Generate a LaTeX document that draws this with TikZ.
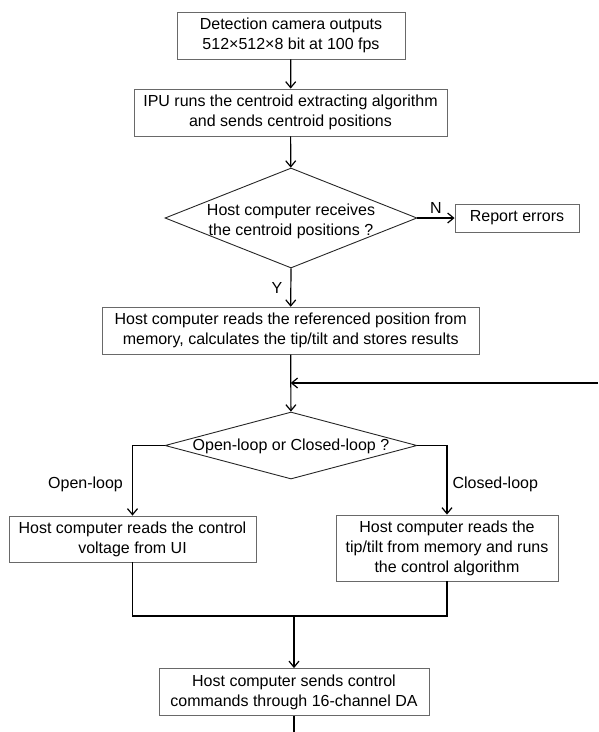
\documentclass[tikz,border=0pt]{standalone}
\usepackage{fontspec}
\setmainfont{Liberation Sans}
\usepackage{tikz}
\usetikzlibrary{arrows.meta, shapes.geometric}
\definecolor{boxgray}{RGB}{105,105,105}

\begin{document}
\begin{tikzpicture}[x=1pt, y=-1pt,
    txt/.style={font=\fontsize{16}{20}\selectfont, align=center, inner sep=0pt},
    stepbox/.style={draw=boxgray, line width=0.9pt, inner sep=0pt,
      font=\fontsize{16}{20}\selectfont, align=center},
    decision/.style={diamond, draw=black!85, line width=0.9pt, inner sep=0pt},
    flow/.style={line width=1.2pt, -{Straight Barb[length=6pt, width=10pt]}},
    link/.style={line width=1.2pt},
    lbl/.style={font=\fontsize{16}{20}\selectfont, inner sep=0pt}]
    \useasboundingbox (0,0) rectangle (598,732);
    % boxes and decisions
    \node[stepbox, minimum width=228, minimum height=47] (camera) at (291,35.5)
      {Detection camera outputs\\512×512×8 bit at 100 fps};
    \node[stepbox, minimum width=313, minimum height=47] (ipu) at (290.5,112.5)
      {IPU runs the centroid extracting algorithm\\and sends centroid positions};
    \node[decision, minimum width=252, minimum height=100] (recv) at (291,218) {};
    \node[txt] (recvtxt) at (291,221) {Host computer receives\\the centroid positions ?};
    \node[stepbox, minimum width=124, minimum height=28] (report) at (517,218) {Report errors};
    \node[stepbox, minimum width=377, minimum height=47] (calc) at (290.7,330.7)
      {Host computer reads the referenced position from\\memory, calculates the tip/tilt and stores results};
    \node[decision, minimum width=252, minimum height=67] (mode) at (291,445.5) {};
    \node[txt] (modetxt) at (291,446) {Open-loop or Closed-loop ?};
    \node[stepbox, minimum width=247, minimum height=46] (openbox) at (132.5,539)
      {Host computer reads the control\\voltage from UI};
    \node[stepbox, minimum width=222, minimum height=66] (closedbox) at (447,548)
      {Host computer reads the\\tip/tilt from memory and runs\\the control algorithm};
    \node[stepbox, minimum width=270, minimum height=47] (send) at (294,692)
      {Host computer sends control\\commands through 16-channel DA};
    % free ends
    \coordinate (loopin) at (598,383);
    \coordinate (mergel) at (132.5,616);
    \coordinate (merger) at (447,616);
    \coordinate (tail) at (294,732);
    % connectors
    \draw[flow] (camera) -- (ipu);
    \draw[flow] (ipu) -- (recv);
    \draw[flow] (recv.east) -- node[lbl, above=4pt]{N} (report);
    \draw[flow] (recv.south) -- node[lbl, left=8pt]{Y} (calc.north);
    \draw[flow] (calc) -- (mode);
    \draw[flow] (loopin) -- (loopin -| calc.south);
    \draw[flow] (mode.west) -| node[lbl, pos=0.78, left=9pt]{Open-loop} (openbox.north);
    \draw[flow] (mode.east) -| node[lbl, pos=0.78, right=5pt]{Closed-loop} (closedbox.north);
    % merge
    \draw[link] (openbox.south) -- (mergel) -- (merger) -- (closedbox.south);
    \draw[flow] (send.north |- mergel) -- (send.north);
    \draw[link] (send.south) -- (tail);
  \end{tikzpicture}
\end{document}
